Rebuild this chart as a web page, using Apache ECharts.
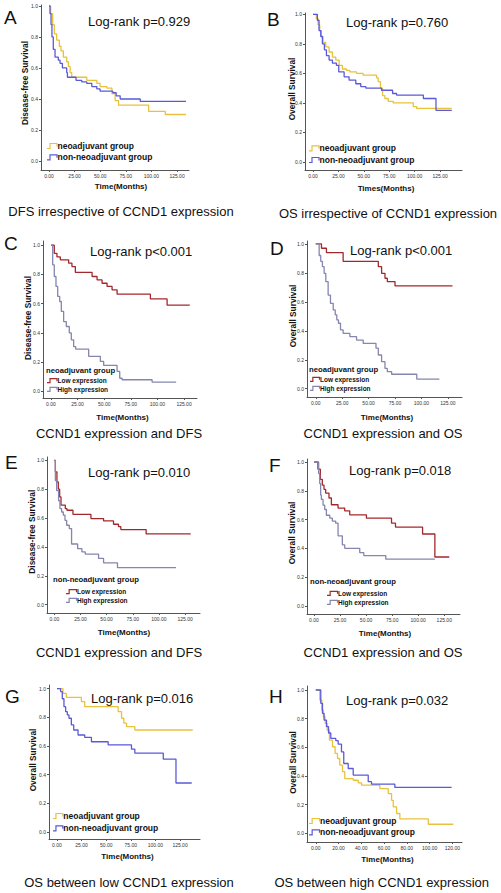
<!DOCTYPE html>
<html>
<head>
<meta charset="utf-8">
<script src="https://cdn.jsdelivr.net/npm/echarts@6/dist/echarts.min.js"></script>
<style>
html,body{margin:0;padding:0;background:#fff;}
#chart{width:501px;height:893px;}
</style>
</head>
<body>
<div id="chart"></div>
<script>
// ---------- tick labels ----------
const yTicks = [0, 0.2, 0.4, 0.6, 0.8, 1.0];
const xTicks125 = [0, 25, 50, 75, 100, 125];
const xTicks120 = [0, 20, 40, 60, 80, 100, 120];

// ---------- series names ----------
const groupNames = ['neoadjuvant group', 'non-neoadjuvant group'];
const exprNames = ['Low expression', 'High expression'];

// ---------- Kaplan-Meier step data [month, survival] ----------
// A: DFS irrespective of CCND1
const A_neo = [[0,1],[1.6,0.95],[3.6,0.88],[5.2,0.82],[7.5,0.78],[10.1,0.74],[11.7,0.71],[14.0,0.67],[17.3,0.64],[18.9,0.61],[20.6,0.57],[22.2,0.54],[36.9,0.52],[46.7,0.50],[49.9,0.48],[56.5,0.47],[61.4,0.435],[64.6,0.39],[67.9,0.36],[97.3,0.32],[113.6,0.30],[133.8,0.30]];
const A_non = [[0,1],[1.0,0.95],[2.0,0.88],[2.9,0.80],[4.2,0.72],[5.9,0.67],[9.1,0.65],[10.8,0.63],[13.1,0.60],[17.3,0.57],[18.0,0.54],[26.4,0.52],[32,0.51],[36.9,0.50],[41.8,0.48],[46.7,0.465],[49.9,0.45],[62.3,0.44],[65.6,0.42],[69.5,0.40],[89.1,0.385],[133.8,0.385]];
// B: OS irrespective of CCND1
const B_neo = [[0,1],[3.3,0.97],[4.9,0.93],[6.6,0.89],[8.2,0.85],[9.9,0.81],[12.5,0.78],[15.8,0.745],[19.1,0.71],[22.4,0.69],[25.7,0.655],[28.9,0.63],[32.9,0.62],[36.2,0.61],[42.8,0.60],[49.3,0.588],[62.5,0.57],[64.1,0.545],[66.4,0.50],[68.4,0.45],[70.7,0.43],[74,0.41],[78.9,0.40],[98.7,0.375],[102,0.363],[136.5,0.363]];
const B_non = [[0,1],[4.3,0.96],[5.9,0.89],[7.6,0.85],[9.2,0.80],[11.2,0.76],[13.2,0.72],[15.8,0.69],[19.1,0.67],[23,0.655],[25.3,0.61],[30.6,0.577],[35.5,0.554],[42.1,0.53],[47,0.51],[52,0.50],[67.4,0.486],[78.3,0.464],[82.2,0.453],[108.6,0.43],[121,0.35],[136.5,0.35]];
// C: neoadjuvant group, DFS by CCND1
const C_low = [[0,1],[3.1,0.945],[5.6,0.92],[8.8,0.90],[16.6,0.877],[19.7,0.854],[22.9,0.815],[38.6,0.786],[43.3,0.763],[48,0.74],[52.7,0.718],[57.4,0.695],[62.1,0.665],[93.4,0.633],[109.1,0.59],[130.4,0.59]];
const C_high = [[0,1],[1.6,0.866],[3.1,0.786],[4.7,0.718],[6.3,0.65],[8.2,0.615],[9.7,0.547],[11.9,0.478],[14.4,0.444],[17.2,0.40],[19.1,0.353],[21.3,0.307],[23.2,0.29],[35.4,0.24],[46.4,0.205],[49.5,0.178],[62.1,0.137],[64.6,0.09],[66.8,0.08],[95,0.064],[117.6,0.064]];
// D: neoadjuvant group, OS by CCND1
const D_low = [[0,1],[5.4,0.97],[10.1,0.94],[25.9,0.88],[59.2,0.843],[62.3,0.797],[65.5,0.763],[67.7,0.74],[75,0.71],[129.4,0.71]];
const D_high = [[0,1],[3.2,0.92],[4.7,0.88],[6.3,0.843],[7.9,0.797],[9.5,0.74],[11.7,0.647],[13.9,0.59],[16.5,0.544],[18.4,0.51],[19.9,0.475],[21.5,0.452],[23.4,0.406],[25.9,0.382],[32.3,0.36],[38.6,0.336],[44.9,0.313],[57,0.28],[59.2,0.233],[62.3,0.187],[65.5,0.14],[67.7,0.118],[71.8,0.10],[95.6,0.067],[117,0.067]];
// E: non-neoadjuvant group, DFS by CCND1
const E_low = [[0,1],[1,0.92],[2.5,0.85],[3.8,0.80],[5.1,0.746],[6.4,0.69],[10.5,0.665],[12.1,0.654],[17.8,0.626],[35,0.596],[47.1,0.58],[56.6,0.557],[61.4,0.54],[63.6,0.52],[87.8,0.49],[130.4,0.49]];
const E_high = [[0,1],[1,0.86],[2.2,0.79],[4.1,0.72],[5.4,0.665],[7,0.642],[8.6,0.62],[10.2,0.584],[11.8,0.55],[14.3,0.527],[16.5,0.42],[22.3,0.388],[26.4,0.365],[29.6,0.35],[42.3,0.32],[47.1,0.29],[60.4,0.256],[116.4,0.256]];
// F: non-neoadjuvant group, OS by CCND1
const F_low = [[0,1],[3.8,0.95],[6.1,0.88],[8,0.84],[9.6,0.81],[11.2,0.784],[14.4,0.75],[16.7,0.703],[23.1,0.68],[29.5,0.66],[34.3,0.633],[50.3,0.61],[74.4,0.575],[78.2,0.548],[104.2,0.50],[116,0.34],[129.8,0.34]];
const F_high = [[0,1],[4.5,0.92],[5.5,0.85],[6.4,0.77],[7.1,0.74],[8.7,0.70],[10.3,0.67],[11.9,0.63],[15.1,0.61],[17.6,0.59],[20.8,0.575],[23.1,0.487],[27.2,0.425],[29.5,0.40],[43.9,0.37],[47.8,0.35],[68.9,0.325],[116,0.325]];
// G: OS, low CCND1 expression
const G_neo = [[0,1],[6.1,0.967],[9.5,0.94],[24.8,0.91],[28.2,0.875],[62.2,0.84],[65.6,0.794],[67.9,0.76],[70.7,0.735],[79.1,0.712],[137.9,0.712]];
const G_non = [[0,1],[3.7,0.98],[5.4,0.93],[7.1,0.875],[8.8,0.84],[10.5,0.817],[12.2,0.794],[14.6,0.747],[17,0.712],[21.4,0.677],[28.2,0.66],[35,0.63],[52,0.608],[75.7,0.578],[79.1,0.55],[108,0.508],[120.9,0.342],[136.9,0.342]];
// H: OS, high CCND1 expression
const H_neo = [[0,1],[3.5,0.93],[5.3,0.86],[6.7,0.813],[8.2,0.767],[10,0.72],[12,0.65],[14.7,0.604],[17,0.557],[19.1,0.522],[21.1,0.476],[23.5,0.43],[25.5,0.382],[32.9,0.37],[37.3,0.352],[40.2,0.336],[56.3,0.312],[63.7,0.277],[66.6,0.23],[68.1,0.184],[71,0.138],[73.9,0.10],[98.9,0.063],[120.9,0.063]];
const H_non = [[0,1],[4.4,0.907],[5.9,0.837],[7.3,0.79],[9.4,0.744],[11.2,0.70],[13.2,0.662],[17.6,0.646],[19.7,0.622],[22.6,0.568],[24.6,0.487],[28.5,0.452],[32.9,0.406],[46.1,0.36],[49,0.343],[69.5,0.32],[119.4,0.32]];

// ---------- styling ----------
const YELLOW = '#E9C23C', BLUE = '#5A5AD8', RED = '#A3282C', GRAY = '#8585AE';
const FONT = '"Liberation Sans", Arial, Helvetica, sans-serif';

// ---------- panel layout ----------
const panels = [
  {L:'A', g:[41,5,189,170], x:[-7.8,136.7], y:[-0.058,1.006], xt:xTicks125, s:[[A_neo,groupNames[0],YELLOW],[A_non,groupNames[1],BLUE]],
   p:'Log-rank p=0.929', ytitle:'Disease-free Survival', xtitle:'Time(Months)', cap:'DFS irrespective of CCND1 expression',
   letter:[4,17], pv:[88,21.5], yt:[25,83], xtp:[121,186.5], capp:[121,211],
   leg:{icon:47, text:57.5, ys:[146,157.3], fs:8.5}},
  {L:'B', g:[305,13,462,170], x:[-7.9,146.6], y:[-0.054,1.009], xt:xTicks125, s:[[B_neo,groupNames[0],YELLOW],[B_non,groupNames[1],BLUE]],
   p:'Log-rank p=0.760', ytitle:'Overall Survival', xtitle:'Times(Months)', cap:'OS irrespective of CCND1 expression',
   letter:[267,19], pv:[346,22], yt:[291.5,89], xtp:[386,188], capp:[388,213],
   leg:{icon:309, text:319.5, ys:[148.3,160], fs:8.5}},
  {L:'C', g:[43,241,197,398], x:[-7.5,137.2], y:[-0.045,1.029], xt:xTicks125, s:[[C_low,exprNames[0],RED],[C_high,exprNames[1],GRAY]],
   p:'Log-rank p<0.001', ytitle:'Disease-free Survival', xtitle:'Time(Months)', cap:'CCND1 expression and DFS',
   letter:[4,243], pv:[90,251.5], yt:[28.3,318], xtp:[122.5,417.5], capp:[119,433],
   legTitle:{text:'neoadjuvant group', x:46, y:370}, leg:{icon:47, text:57.5, ys:[380.7,389.3], fs:6.5}},
  {L:'D', g:[307,241,462,397], x:[-8.3,138.4], y:[-0.057,1.02], xt:xTicks125, s:[[D_low,exprNames[0],RED],[D_high,exprNames[1],GRAY]],
   p:'Log-rank p<0.001', ytitle:'Overall Survival', xtitle:'Time(Months)', cap:'CCND1 expression and OS',
   letter:[270,248.5], pv:[350,250], yt:[292.7,316], xtp:[387,417], capp:[383,433],
   legTitle:{text:'neoadjuvant group', x:309, y:369}, leg:{icon:310, text:320, ys:[379.3,388.3], fs:6.5}},
  {L:'E', g:[47,457,200,613], x:[-7,139.3], y:[-0.058,1.023], xt:xTicks125, s:[[E_low,exprNames[0],RED],[E_high,exprNames[1],GRAY]],
   p:'Log-rank p=0.010', ytitle:'Disease-free Survival', xtitle:'Time(Months)', cap:'CCND1 expression and DFS',
   letter:[5,462.5], pv:[88,472], yt:[31.7,531.7], xtp:[124,632.5], capp:[119,652],
   legTitle:{text:'non-neoadjuvant group', x:53, y:579.3}, leg:{icon:66, text:77, ys:[591.7,600.3], fs:6.5}},
  {L:'F', g:[307,459,460,614], x:[-6.7,140.1], y:[-0.056,1.021], xt:xTicks125, s:[[F_low,exprNames[0],RED],[F_high,exprNames[1],GRAY]],
   p:'Log-rank p=0.018', ytitle:'Overall Survival', xtitle:'Time(Months)', cap:'CCND1 expression and OS',
   letter:[269,465.5], pv:[349,470.3], yt:[291.7,533], xtp:[385,633.5], capp:[383,652],
   legTitle:{text:'non-neoadjuvant group', x:310, y:581}, leg:{icon:327, text:338, ys:[593.3,602.3], fs:6.5}},
  {L:'G', g:[49,685,200,839], x:[-8.1,145.3], y:[-0.049,1.026], xt:xTicks125, s:[[G_neo,groupNames[0],YELLOW],[G_non,groupNames[1],BLUE]],
   p:'Log-rank p=0.016', ytitle:'Overall Survival', xtitle:'Time(Months)', cap:'OS between low CCND1 expression',
   letter:[5,696], pv:[91,698.7], yt:[33.3,760], xtp:[127.5,856.7], capp:[129,882.3],
   leg:{icon:53, text:63.3, ys:[816,828.3], fs:8.5}},
  {L:'H', g:[307,686,462,842], x:[-7.7,128.5], y:[-0.061,1.028], xt:xTicks120, s:[[H_neo,groupNames[0],YELLOW],[H_non,groupNames[1],BLUE]],
   p:'Log-rank p=0.032', ytitle:'Overall Survival', xtitle:'Time(Months)', cap:'OS between high CCND1 expression',
   letter:[269,696], pv:[346,700.3], yt:[292.7,762.5], xtp:[387.5,859], capp:[381.7,882.3],
   leg:{icon:309, text:320, ys:[821,832.3], fs:8.5}}
];

const grid = [], xAxis = [], yAxis = [], series = [], graphic = [];
const AX = '#555';

function txt(x, y, text, size, weight, align, extra) {
  return Object.assign({
    type: 'text', x: x, y: y, silent: true,
    style: { text: text, x: 0, y: 0, fontSize: size, fontWeight: weight || 'normal', fontFamily: FONT,
             fill: '#111', textAlign: align || 'left', textVerticalAlign: 'middle' }
  }, extra || {});
}

panels.forEach(function (p, i) {
  grid.push({ left: p.g[0], top: p.g[1], width: p.g[2] - p.g[0], height: p.g[3] - p.g[1], containLabel: false });
  xAxis.push({
    gridIndex: i, type: 'value', min: p.x[0], max: p.x[1],
    axisLine: { show: true, onZero: false, lineStyle: { color: AX, width: 1 } },
    axisTick: { show: true, customValues: p.xt, length: 2, lineStyle: { color: AX } },
    axisLabel: { customValues: p.xt, formatter: function (v) { return v.toFixed(2); }, fontSize: 5, color: '#333', margin: 3, fontFamily: FONT },
    splitLine: { show: false }
  });
  yAxis.push({
    gridIndex: i, type: 'value', min: p.y[0], max: p.y[1],
    axisLine: { show: true, onZero: false, lineStyle: { color: AX, width: 1 } },
    axisTick: { show: true, customValues: yTicks, length: 2, lineStyle: { color: AX } },
    axisLabel: { customValues: yTicks, formatter: function (v) { return v.toFixed(1); }, fontSize: 5, color: '#333', margin: 3, fontFamily: FONT },
    splitLine: { show: false }
  });
  p.s.forEach(function (s) {
    series.push({
      type: 'line', name: s[1], step: 'end', data: s[0], xAxisIndex: i, yAxisIndex: i,
      symbol: 'none', showSymbol: false, animation: false, silent: true,
      lineStyle: { color: s[2], width: 1.3 }, itemStyle: { color: s[2] }
    });
  });
  // panel letter, log-rank, axis titles, caption
  graphic.push(txt(p.letter[0], p.letter[1], p.L, 19, 'normal', 'left'));
  graphic.push(txt(p.pv[0], p.pv[1], p.p, 13, 'normal', 'left'));
  graphic.push(txt(p.yt[0], p.yt[1], p.ytitle, 8.3, 'bold', 'center', { rotation: Math.PI / 2 }));
  graphic.push(txt(p.xtp[0], p.xtp[1], p.xtitle, 8, 'bold', 'center'));
  graphic.push(txt(p.capp[0], p.capp[1], p.cap, 13, 'normal', 'center'));
  // legend
  if (p.legTitle) graphic.push(txt(p.legTitle.x, p.legTitle.y, p.legTitle.text, 7.7, 'bold', 'left'));
  p.s.forEach(function (s, k) {
    const cy = p.leg.ys[k];
    const x0 = p.leg.icon, w = p.leg.text - p.leg.icon - 0.5;
    const h = p.leg.fs > 7 ? 5 : 4;
    graphic.push({
      type: 'polyline', silent: true,
      shape: { points: [[x0, cy + h / 2], [x0 + w * 0.3, cy + h / 2], [x0 + w * 0.3, cy - h / 2], [x0 + w, cy - h / 2], [x0 + w, cy + 0.5]] },
      style: { stroke: s[2], lineWidth: 1.2, fill: null }
    });
    graphic.push(txt(p.leg.text, cy, s[1], p.leg.fs, 'bold', 'left'));
  });
});

const chart = echarts.init(document.getElementById('chart'), null, { renderer: 'svg', width: 501, height: 893 });
chart.setOption({
  backgroundColor: '#ffffff',
  animation: false,
  textStyle: { fontFamily: FONT },
  grid: grid, xAxis: xAxis, yAxis: yAxis, series: series, graphic: graphic
});
</script>
</body>
</html>
